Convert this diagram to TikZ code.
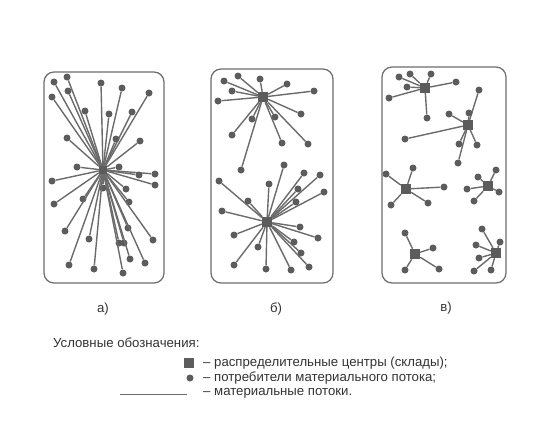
\documentclass[tikz,border=0pt]{standalone}
\usepackage{fontspec}
\setmainfont{Liberation Sans}
\definecolor{flowgray}{gray}{0.42}
\definecolor{dotgray}{gray}{0.36}
\begin{document}
\begin{tikzpicture}[x=1pt,y=-1pt,
  panel/.style={draw=flowgray,line width=1.2pt,rounded corners=10pt},
  dot/.style={circle,fill=dotgray,inner sep=0pt,minimum size=7pt},
  hub/.style={rectangle,fill=dotgray,inner sep=0pt,minimum size=10pt},
  flow/.style={flowgray,line width=1.4pt},
  every node/.style={font=\fontsize{13.2}{15}\selectfont}]
\useasboundingbox (0,0) rectangle (540,421);
% frames
\draw[panel] (44,72) rectangle (164,283);
\draw[panel] (211,69) rectangle (333,283);
\draw[panel] (382,67) rectangle (506,283);
% a) one common centre
\node[hub,minimum size=8pt] (A) at (103,170) {};
\foreach \x/\y [count=\i] in {54/82,67/77,52/97,68/91,101/83,122/88,149/93,85/111,
  109/114,132/112,67/138,116/139,140/141,77/167,119/167,155/174,139/175,52/181,
  155/185,103/188,126/189,54/204,83/199,129/202,65/231,128/228,153/240,89/239,
  119/243,124/243,69/265,94/269,130/259,145/263,123/273}{
  \node[dot] (a\i) at (\x,\y) {};
  \draw[flow] (A) -- (a\i);
}
% b) two centres
\node[hub] (B1) at (263,97) {};
\foreach \x/\y [count=\i] in {224/81,238/76,260/79,287/84,314/91,232/91,218/101,
  301/114,252/119,275/117,232/135,282/143,308/144,241/170}{
  \node[dot] (b\i) at (\x,\y) {};
  \draw[flow] (B1) -- (b\i);
}
\node[hub] (B2) at (267,222) {};
\foreach \x/\y [count=\i] in {284/165,304/173,320/175,219/181,269/184,298/189,
  324/192,248/201,296/202,222/211,300/227,234/235,318/238,294/242,258/247,
  301/253,234/265,266/269,291/270,309/267}{
  \node[dot] (bb\i) at (\x,\y) {};
  \draw[flow] (B2) -- (bb\i);
}
% c) six centres
\node[hub] (C1) at (425,88) {};
\foreach \x/\y [count=\i] in {399/77,410/74,431/74,407/87,389/98,456/82,427/118}{
  \node[dot] (c\i) at (\x,\y) {};
  \draw[flow] (C1) -- (c\i);
}
\node[hub] (C2) at (468,125) {};
\foreach \x/\y [count=\i] in {479/90,469/113,449/114,405/139,459/144,477/145,458/163}{
  \node[dot] (cc\i) at (\x,\y) {};
  \draw[flow] (C2) -- (cc\i);
}
\node[hub] (C3) at (406,189) {};
\foreach \x/\y [count=\i] in {386/174,413/168,444/187,391/205,428/203}{
  \node[dot] (ccc\i) at (\x,\y) {};
  \draw[flow] (C3) -- (ccc\i);
}
\node[hub] (C4) at (488,186) {};
\foreach \x/\y [count=\i] in {478/177,496/170,467/189,499/192,474/201}{
  \node[dot] (d\i) at (\x,\y) {};
  \draw[flow] (C4) -- (d\i);
}
\node[hub] (C5) at (415,254) {};
\foreach \x/\y [count=\i] in {405/233,433/248,405/270,439/269}{
  \node[dot] (dd\i) at (\x,\y) {};
  \draw[flow] (C5) -- (dd\i);
}
\node[hub] (C6) at (496,253) {};
\foreach \x/\y [count=\i] in {482/229,500/242,476/245,479/258,474/271,491/270}{
  \node[dot] (ddd\i) at (\x,\y) {};
  \draw[flow] (C6) -- (ddd\i);
}
% captions
\node[text=black!80] (la) at (103,309) {а)};
\node[text=black!80] (lb) at (276,309) {б)};
\node[text=black!80] (lc) at (446,308) {в)};
% legend
\node[anchor=west,text=black!80,inner sep=0pt] (title) at (53,343) {Условные обозначения:};
\node[hub] (lhub) at (189,363) {};
\node[anchor=west,text=black!80,inner sep=0pt] (thub) at (203,363) {– распределительные центры (склады);};
\node[dot] (ldot) at (190,378) {};
\node[anchor=west,text=black!80,inner sep=0pt] (tdot) at (203,378) {– потребители материального потока;};
\coordinate (lf1) at (120,394);
\coordinate (lf2) at (187,394);
\draw[flowgray,line width=0.9pt] (lf1) -- (lf2);
\node[anchor=west,text=black!80,inner sep=0pt] (tflow) at (203,393) {– материальные потоки.};
\end{tikzpicture}
\end{document}
